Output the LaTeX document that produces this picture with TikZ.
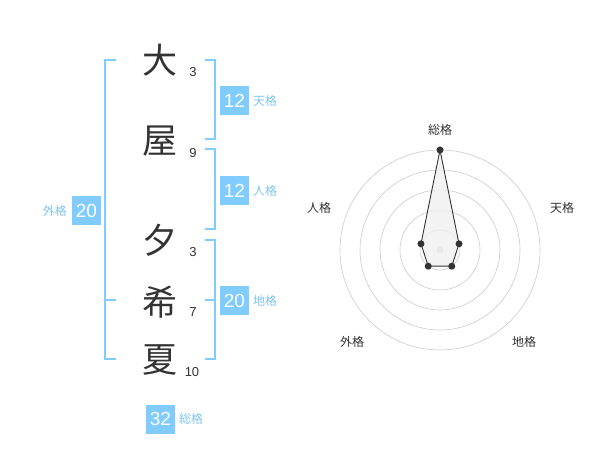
\documentclass[tikz,border=0pt]{standalone}
\usepackage{fontspec}
\setmainfont{Liberation Sans}
\newfontfamily\cjk{Noto Sans CJK JP}
\definecolor{brk}{HTML}{80CCFF}
\definecolor{lbl}{HTML}{7FC6F0}
\definecolor{ink}{HTML}{333333}
\definecolor{ring}{HTML}{CCCCCC}
\tikzset{
  kanji/.style={font=\cjk\fontsize{35}{35}\selectfont, text=ink, inner sep=0pt},
  strokes/.style={font=\fontsize{13}{13}\selectfont, text=ink, inner sep=0pt},
  valbox/.style={fill=brk, text=white, minimum width=29pt, minimum height=29pt, inner sep=0pt, font=\fontsize{19}{19}\selectfont},
  kaku/.style={font=\cjk\fontsize{12}{12}\selectfont, text=lbl, inner sep=0pt, anchor=west},
  bracket/.style={draw=brk, line width=2pt},
  axislbl/.style={font=\cjk\fontsize{12}{12}\selectfont, text=ink, inner sep=0pt},
  ringline/.style={draw=ring, line width=0.6pt},
  dot/.style={circle, fill=ink, inner sep=0pt, minimum size=7pt},
}
\begin{document}
\begin{tikzpicture}[x=1pt,y=-1pt]
\useasboundingbox (0,0) rectangle (600,470);
\fill[white] (0,0) rectangle (600,470);
% kanji
\node[kanji] (k1) at (160,60) {大};
\node[kanji] (k2) at (160,141) {屋};
\node[kanji] (k3) at (160,240) {夕};
\node[kanji] (k4) at (160,302) {希};
\node[kanji] (k5) at (160,360) {夏};
% stroke counts
\node[strokes] (s1) at (193,72.5) {3};
\node[strokes] (s2) at (193,153) {9};
\node[strokes] (s3) at (193,252.5) {3};
\node[strokes] (s4) at (193,312.5) {7};
\node[strokes] (s5) at (192,372.5) {10};
% left bracket (gaikaku)
\draw[bracket] (116,60) -- (105,60) -- (105,359.5) -- (116,359.5);
\draw[bracket] (105,300) -- (116,300);
% right brackets
\draw[bracket] (205,60) -- (214.5,60) -- (214.5,139.5) -- (205,139.5);
\draw[bracket] (205,149.5) -- (214.5,149.5) -- (214.5,229.5) -- (205,229.5);
\draw[bracket] (205,240) -- (214.5,240) -- (214.5,359.5) -- (205,359.5);
\draw[bracket] (205,300) -- (214.5,300);
% value boxes
\node[valbox] (ten) at (234.5,100.5) {12};
\node[kaku] (tenl) at (253,100.5) {天格};
\node[valbox] (jin) at (234.5,190.5) {12};
\node[kaku] (jinl) at (253,190.5) {人格};
\node[valbox] (chi) at (234.5,300.5) {20};
\node[kaku] (chil) at (253,300.5) {地格};
\node[valbox] (gai) at (86.5,210.5) {20};
\node[kaku, anchor=east] (gail) at (67,210.5) {外格};
\node[valbox] (sou) at (160.5,419) {32};
\node[kaku] (soul) at (179,419) {総格};
% radar
\coordinate (c) at (440,250);
\foreach \r in {20,40,60,80,100} \draw[ringline] (c) circle[radius=\r pt];
\fill[ring] (c) circle[radius=3.5pt];
\coordinate (pS) at (440,150);
\coordinate (pT) at (459.02,243.82);
\coordinate (pC) at (451.76,266.18);
\coordinate (pG) at (428.24,266.18);
\coordinate (pJ) at (420.98,243.82);
\draw[ink, line width=0.9pt, fill=black!6, fill opacity=0.8] (pS) -- (pT) -- (pC) -- (pG) -- (pJ) -- cycle;
\foreach \p in {pS,pT,pC,pG,pJ} \node[dot] at (\p) {};
\node[axislbl] (aS) at (440,130) {総格};
\node[axislbl] (aT) at (562,208) {天格};
\node[axislbl] (aC) at (524,342) {地格};
\node[axislbl] (aG) at (352,342) {外格};
\node[axislbl] (aJ) at (319,208) {人格};
\end{tikzpicture}
\end{document}
